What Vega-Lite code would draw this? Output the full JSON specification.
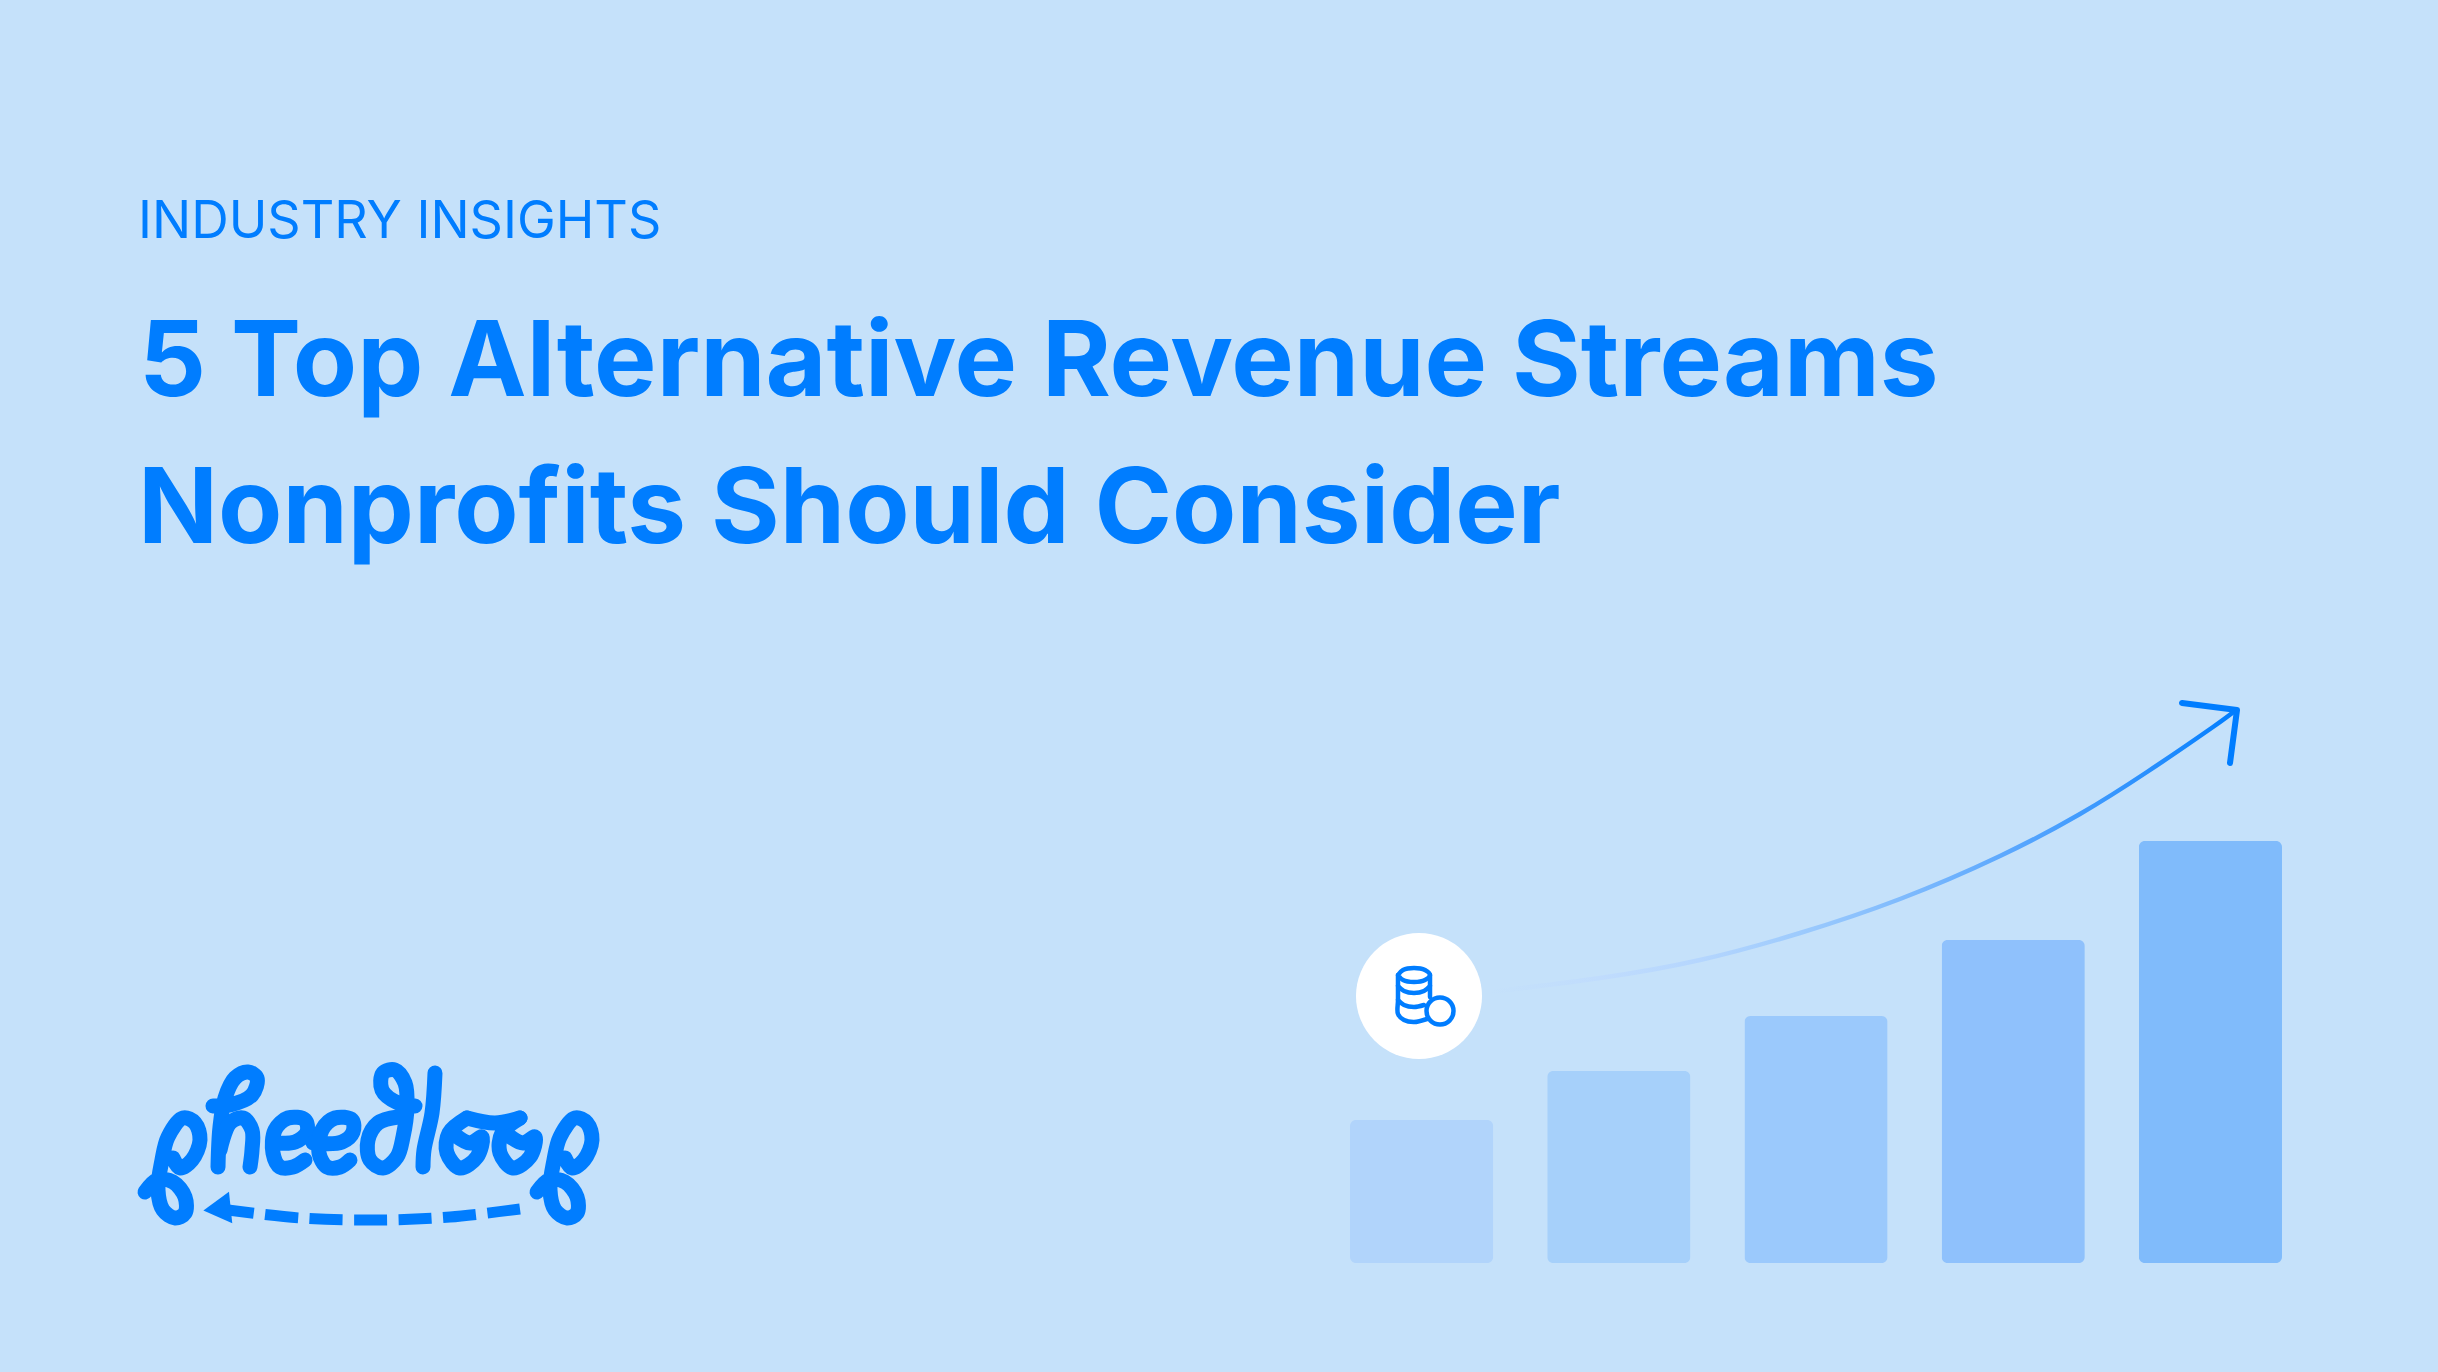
{
  "$schema": "https://vega.github.io/schema/vega-lite/v6.json",
  "autosize": {"type": "fit", "contains": "padding"},
  "padding": 0,
  "width": 2438,
  "height": 1372,
  "background": "#c5e1fa",
  "config": {"view": {"stroke": null}},
  "datasets": {
    "bars": [
      {"stage": "1", "revenue": 143},
      {"stage": "2", "revenue": 192},
      {"stage": "3", "revenue": 247},
      {"stage": "4", "revenue": 323},
      {"stage": "5", "revenue": 422}
    ],
    "growth": [
      {"x": 1490, "y": 992}, {"x": 1600, "y": 978}, {"x": 1700, "y": 960}, {"x": 1800, "y": 933},
      {"x": 1900, "y": 899}, {"x": 2000, "y": 856}, {"x": 2080, "y": 814},
      {"x": 2147, "y": 772}, {"x": 2213, "y": 727}, {"x": 2236, "y": 710}
    ],
    "arrowhead": [
      {"x": 2182, "y": 703, "i": 1}, {"x": 2237, "y": 710, "i": 2}, {"x": 2230, "y": 763, "i": 3}
    ],
    "badge": [{"x": 1419, "y": 996}],
    "coin": [{"x": 1440, "y": 1011}],
    "stack": [
      {"part": "top", "i": 1, "x": 1398, "y": 975}, {"part": "top", "i": 2, "x": 1403, "y": 970}, {"part": "top", "i": 3, "x": 1414, "y": 968}, {"part": "top", "i": 4, "x": 1425, "y": 970},
      {"part": "top", "i": 5, "x": 1430, "y": 975}, {"part": "top", "i": 6, "x": 1425, "y": 980}, {"part": "top", "i": 7, "x": 1414, "y": 982}, {"part": "top", "i": 8, "x": 1403, "y": 980}, {"part": "top", "i": 9, "x": 1398, "y": 975},
      {"part": "side", "i": 1, "x": 1398, "y": 975}, {"part": "side", "i": 2, "x": 1398, "y": 1000}, {"part": "side", "i": 3, "x": 1398, "y": 1014}, {"part": "side", "i": 4, "x": 1404, "y": 1020}, {"part": "side", "i": 5, "x": 1414, "y": 1022}, {"part": "side", "i": 6, "x": 1427, "y": 1019},
      {"part": "right", "i": 1, "x": 1430, "y": 975}, {"part": "right", "i": 2, "x": 1430, "y": 997},
      {"part": "ring1", "i": 1, "x": 1398, "y": 986}, {"part": "ring1", "i": 2, "x": 1404, "y": 991}, {"part": "ring1", "i": 3, "x": 1414, "y": 993}, {"part": "ring1", "i": 4, "x": 1424, "y": 991}, {"part": "ring1", "i": 5, "x": 1430, "y": 986},
      {"part": "ring2", "i": 1, "x": 1398, "y": 1000}, {"part": "ring2", "i": 2, "x": 1404, "y": 1005}, {"part": "ring2", "i": 3, "x": 1414, "y": 1007}, {"part": "ring2", "i": 4, "x": 1424, "y": 1005}
    ],
    "logo": [
      {"s": "p1", "i": 1, "x": 145, "y": 1192}, {"s": "p1", "i": 2, "x": 157, "y": 1180}, {"s": "p1", "i": 3, "x": 173, "y": 1182}, {"s": "p1", "i": 4, "x": 185, "y": 1197},
      {"s": "p1", "i": 5, "x": 185, "y": 1213}, {"s": "p1", "i": 6, "x": 175, "y": 1218}, {"s": "p1", "i": 7, "x": 163, "y": 1210}, {"s": "p1", "i": 8, "x": 158, "y": 1190},
      {"s": "p1", "i": 9, "x": 162, "y": 1160}, {"s": "p1", "i": 10, "x": 168, "y": 1137}, {"s": "p1", "i": 11, "x": 183, "y": 1118}, {"s": "p1", "i": 12, "x": 195, "y": 1123},
      {"s": "p1", "i": 13, "x": 200, "y": 1140}, {"s": "p1", "i": 14, "x": 192, "y": 1160}, {"s": "p1", "i": 15, "x": 180, "y": 1168}, {"s": "p1", "i": 16, "x": 173, "y": 1158},
      {"s": "h1", "i": 1, "x": 213, "y": 1106}, {"s": "h1", "i": 2, "x": 230, "y": 1105}, {"s": "h1", "i": 3, "x": 252, "y": 1095}, {"s": "h1", "i": 4, "x": 257, "y": 1078},
      {"s": "h1", "i": 5, "x": 248, "y": 1072}, {"s": "h1", "i": 6, "x": 235, "y": 1078}, {"s": "h1", "i": 7, "x": 225, "y": 1098}, {"s": "h1", "i": 8, "x": 220, "y": 1127}, {"s": "h1", "i": 9, "x": 218, "y": 1167},
      {"s": "h2", "i": 1, "x": 220, "y": 1150}, {"s": "h2", "i": 2, "x": 230, "y": 1123}, {"s": "h2", "i": 3, "x": 243, "y": 1118}, {"s": "h2", "i": 4, "x": 252, "y": 1130}, {"s": "h2", "i": 5, "x": 252, "y": 1150}, {"s": "h2", "i": 6, "x": 250, "y": 1167},
      {"s": "e1", "i": 1, "x": 305, "y": 1160}, {"s": "e1", "i": 2, "x": 293, "y": 1167}, {"s": "e1", "i": 3, "x": 280, "y": 1167}, {"s": "e1", "i": 4, "x": 273, "y": 1153},
      {"s": "e1", "i": 5, "x": 275, "y": 1130}, {"s": "e1", "i": 6, "x": 288, "y": 1118}, {"s": "e1", "i": 7, "x": 305, "y": 1120}, {"s": "e1", "i": 8, "x": 307, "y": 1132}, {"s": "e1", "i": 9, "x": 295, "y": 1142}, {"s": "e1", "i": 10, "x": 278, "y": 1143},
      {"s": "e2", "i": 1, "x": 350, "y": 1160}, {"s": "e2", "i": 2, "x": 340, "y": 1167}, {"s": "e2", "i": 3, "x": 327, "y": 1167}, {"s": "e2", "i": 4, "x": 319, "y": 1153},
      {"s": "e2", "i": 5, "x": 322, "y": 1130}, {"s": "e2", "i": 6, "x": 335, "y": 1118}, {"s": "e2", "i": 7, "x": 352, "y": 1120}, {"s": "e2", "i": 8, "x": 353, "y": 1132}, {"s": "e2", "i": 9, "x": 342, "y": 1142}, {"s": "e2", "i": 10, "x": 313, "y": 1143},
      {"s": "d", "i": 1, "x": 415, "y": 1106}, {"s": "d", "i": 2, "x": 398, "y": 1103}, {"s": "d", "i": 3, "x": 382, "y": 1090}, {"s": "d", "i": 4, "x": 383, "y": 1073}, {"s": "d", "i": 5, "x": 395, "y": 1070},
      {"s": "d", "i": 6, "x": 405, "y": 1083}, {"s": "d", "i": 7, "x": 407, "y": 1107}, {"s": "d", "i": 8, "x": 403, "y": 1137}, {"s": "d", "i": 9, "x": 397, "y": 1157}, {"s": "d", "i": 10, "x": 383, "y": 1168},
      {"s": "d", "i": 11, "x": 370, "y": 1160}, {"s": "d", "i": 12, "x": 368, "y": 1140}, {"s": "d", "i": 13, "x": 378, "y": 1123}, {"s": "d", "i": 14, "x": 398, "y": 1117},
      {"s": "l", "i": 1, "x": 435, "y": 1073}, {"s": "l", "i": 2, "x": 432, "y": 1113}, {"s": "l", "i": 3, "x": 424, "y": 1150}, {"s": "l", "i": 4, "x": 423, "y": 1167},
      {"s": "o1", "i": 1, "x": 467, "y": 1118}, {"s": "o1", "i": 2, "x": 449, "y": 1133}, {"s": "o1", "i": 3, "x": 447, "y": 1153}, {"s": "o1", "i": 4, "x": 460, "y": 1168}, {"s": "o1", "i": 5, "x": 477, "y": 1157},
      {"s": "o1", "i": 6, "x": 482, "y": 1137}, {"s": "o1", "i": 7, "x": 470, "y": 1143}, {"s": "o1", "i": 8, "x": 455, "y": 1135},
      {"s": "o2", "i": 1, "x": 520, "y": 1118}, {"s": "o2", "i": 2, "x": 502, "y": 1133}, {"s": "o2", "i": 3, "x": 500, "y": 1153}, {"s": "o2", "i": 4, "x": 513, "y": 1168}, {"s": "o2", "i": 5, "x": 530, "y": 1157},
      {"s": "o2", "i": 6, "x": 535, "y": 1137}, {"s": "o2", "i": 7, "x": 523, "y": 1143}, {"s": "o2", "i": 8, "x": 508, "y": 1135},
      {"s": "link", "i": 1, "x": 467, "y": 1118}, {"s": "link", "i": 2, "x": 495, "y": 1123}, {"s": "link", "i": 3, "x": 520, "y": 1118},
      {"s": "p2", "i": 1, "x": 537, "y": 1192}, {"s": "p2", "i": 2, "x": 549, "y": 1180}, {"s": "p2", "i": 3, "x": 565, "y": 1182}, {"s": "p2", "i": 4, "x": 577, "y": 1197},
      {"s": "p2", "i": 5, "x": 577, "y": 1213}, {"s": "p2", "i": 6, "x": 567, "y": 1218}, {"s": "p2", "i": 7, "x": 555, "y": 1210}, {"s": "p2", "i": 8, "x": 550, "y": 1190},
      {"s": "p2", "i": 9, "x": 554, "y": 1160}, {"s": "p2", "i": 10, "x": 560, "y": 1137}, {"s": "p2", "i": 11, "x": 575, "y": 1118}, {"s": "p2", "i": 12, "x": 587, "y": 1123},
      {"s": "p2", "i": 13, "x": 592, "y": 1140}, {"s": "p2", "i": 14, "x": 584, "y": 1160}, {"s": "p2", "i": 15, "x": 572, "y": 1168}, {"s": "p2", "i": 16, "x": 565, "y": 1158}
    ],
    "swoosh": [
      {"i": 1, "x": 520, "y": 1209}, {"i": 2, "x": 450, "y": 1217}, {"i": 3, "x": 377, "y": 1220}, {"i": 4, "x": 300, "y": 1218}, {"i": 5, "x": 228, "y": 1210}
    ],
    "tip": [{"x": 217, "y": 1209}],
    "kicker": [{"text": "INDUSTRY INSIGHTS", "x": 138, "y": 238}],
    "headline": [
      {"text": "5 Top Alternative Revenue Streams", "x": 139, "y": 396},
      {"text": "Nonprofits Should Consider", "x": 138, "y": 543}
    ]
  },
  "layer": [
    {
      "data": {"name": "bars"},
      "mark": {"type": "bar", "cornerRadius": 6},
      "encoding": {
        "x": {"field": "stage", "type": "nominal", "axis": null, "scale": {"range": [1350, 2282], "paddingInner": 0.274, "paddingOuter": 0}},
        "y": {"field": "revenue", "type": "quantitative", "axis": null, "scale": {"domain": [0, 422], "range": [1263, 841]}},
        "color": {"field": "stage", "type": "nominal", "legend": null, "scale": {"range": ["#b1d4fb", "#a6d0fa", "#9bc9fc", "#8fc1fc", "#80bbfb"]}}
      }
    },
    {
      "encoding": {
        "x": {"field": "x", "type": "quantitative", "axis": null, "scale": {"domain": [0, 2438], "nice": false, "zero": false}},
        "y": {"field": "y", "type": "quantitative", "axis": null, "scale": {"domain": [1372, 0], "nice": false, "zero": false}}
      },
      "layer": [
        {
          "data": {"name": "badge"},
          "mark": {"type": "circle", "color": "#ffffff", "opacity": 1, "size": 15876}
        },
        {
          "data": {"name": "growth"},
          "mark": {
            "type": "line",
            "interpolate": "natural",
            "strokeWidth": 4.5,
            "strokeCap": "round",
            "color": {
              "gradient": "linear",
              "x1": 0, "y1": 0, "x2": 1, "y2": 0,
              "stops": [
                {"offset": 0, "color": "#c5e1fa"},
                {"offset": 0.147, "color": "#c0dcfd"},
                {"offset": 0.28, "color": "#b5d6fe"},
                {"offset": 0.41, "color": "#9ecbfd"},
                {"offset": 0.55, "color": "#80bbfd"},
                {"offset": 0.7, "color": "#5aa7fe"},
                {"offset": 0.88, "color": "#2a90fe"},
                {"offset": 1, "color": "#007dff"}
              ]
            }
          }
        },
        {
          "data": {"name": "arrowhead"},
          "mark": {"type": "line", "color": "#007dff", "strokeWidth": 6, "strokeCap": "round", "strokeJoin": "round"},
          "encoding": {"order": {"field": "i"}}
        },
        {
          "data": {"name": "stack"},
          "mark": {"type": "line", "interpolate": "catmull-rom", "color": "#007dff", "strokeWidth": 4.5, "strokeCap": "round", "strokeJoin": "round"},
          "encoding": {"detail": {"field": "part"}, "order": {"field": "i"}}
        },
        {
          "data": {"name": "coin"},
          "mark": {"type": "point", "shape": "circle", "filled": false, "fill": "#ffffff", "fillOpacity": 1, "stroke": "#007dff", "strokeWidth": 4.5, "opacity": 1, "size": 729}
        },
        {
          "data": {"name": "logo"},
          "mark": {"type": "line", "interpolate": "catmull-rom", "color": "#007dff", "strokeWidth": 15, "strokeCap": "round", "strokeJoin": "round"},
          "encoding": {"detail": {"field": "s"}, "order": {"field": "i"}}
        },
        {
          "data": {"name": "swoosh"},
          "mark": {"type": "line", "interpolate": "catmull-rom", "color": "#007dff", "strokeWidth": 11, "strokeDash": [33, 11.5]},
          "encoding": {"order": {"field": "i"}}
        },
        {
          "data": {"name": "tip"},
          "mark": {"type": "point", "shape": "triangle-left", "filled": true, "color": "#007dff", "opacity": 1, "size": 1000, "angle": 354}
        },
        {
          "data": {"name": "kicker"},
          "mark": {"type": "text", "align": "left", "baseline": "alphabetic", "font": "Inter", "fontWeight": 400, "fontSize": 52, "color": "#007dff"},
          "encoding": {"text": {"field": "text"}}
        },
        {
          "data": {"name": "headline"},
          "mark": {"type": "text", "align": "left", "baseline": "alphabetic", "font": "Inter", "fontWeight": 700, "fontSize": 105, "color": "#007dff"},
          "encoding": {"text": {"field": "text"}}
        }
      ]
    }
  ],
  "resolve": {"scale": {"x": "independent", "y": "independent"}}
}
